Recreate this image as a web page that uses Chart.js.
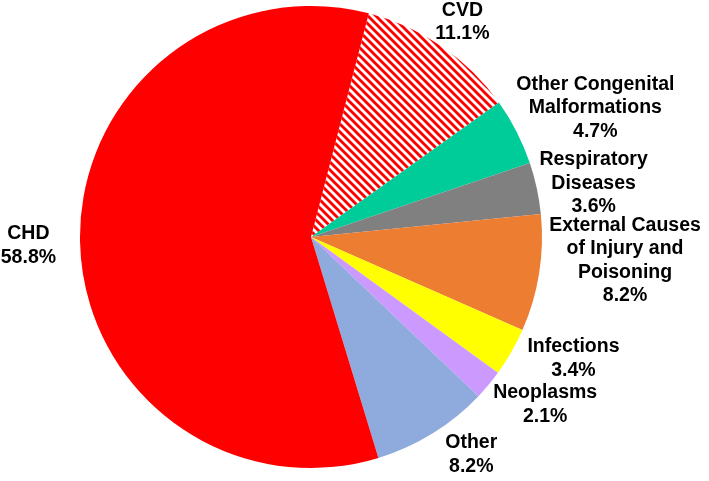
<!DOCTYPE html>
<html>
<head>
<meta charset="utf-8">
<script src="https://cdn.jsdelivr.net/npm/chart.js@4"></script>
<style>
  html, body { margin: 0; padding: 0; background: #fff; }
  #wrap { width: 709px; height: 481px; }
</style>
</head>
<body>
<div id="wrap"><canvas id="pie" width="709" height="481"></canvas></div>
<script>
// data, clockwise starting just right of 12 o'clock
const causes = ['CVD', 'Other Congenital Malformations', 'Respiratory Diseases',
  'External Causes of Injury and Poisoning', 'Infections', 'Neoplasms', 'Other', 'CHD'];
const shares = [11.1, 4.7, 3.6, 8.2, 3.4, 2.1, 8.2, 58.8];
// how each label is broken into lines
const labelLines = [
  ['CVD'],
  ['Other Congenital', 'Malformations'],
  ['Respiratory', 'Diseases'],
  ['External Causes', 'of Injury and', 'Poisoning'],
  ['Infections'],
  ['Neoplasms'],
  ['Other'],
  ['CHD']
];

// red / white diagonal hatch for CVD
const makeHatch = () => {
  const t = document.createElement('canvas');
  t.width = 8; t.height = 8;
  const c = t.getContext('2d');
  c.fillStyle = '#fff';
  c.fillRect(0, 0, 8, 8);
  c.strokeStyle = '#ff0000';
  c.lineWidth = 2.9;
  [-8, 0, 8].forEach(o => {
    c.beginPath();
    c.moveTo(o - 1, -1);
    c.lineTo(o + 9, 9);
    c.stroke();
  });
  return c.createPattern(t, 'repeat');
};

const ctx = document.getElementById('pie').getContext('2d');
const colors = [makeHatch(), '#00cc99', '#808080', '#ed7d31', '#ffff00', '#cc99ff', '#8faadc', '#ff0000'];

// small per-label nudges on top of the outside-end placement
const nudges = [[2, 0], [3, -5], [-2, 4], [5, -21], [17, -8], [12, 1], [22, -4], [-18, 3]];

const outsideLabels = {
  id: 'outsideLabels',
  afterDraw(chart) {
    const g = chart.ctx;
    const arcs = chart.getDatasetMeta(0).data;
    const fs = 19.5, lh = 23.5;
    g.save();
    g.font = `bold ${fs}px "Liberation Sans", Arial, sans-serif`;
    g.fillStyle = '#000';
    g.textAlign = 'center';
    g.textBaseline = 'middle';
    arcs.forEach((arc, i) => {
      const lines = labelLines[i].concat([shares[i].toFixed(1) + '%']);
      const mid = (arc.startAngle + arc.endAngle) / 2;
      const r = arc.outerRadius + 6;
      const ax = arc.x + Math.cos(mid) * r;
      const ay = arc.y + Math.sin(mid) * r;
      const hw = Math.max(...lines.map(l => g.measureText(l).width)) / 2;
      const hh = lines.length * lh / 2;
      const cx = ax + Math.cos(mid) * hw + nudges[i][0];
      const cy = ay + Math.sin(mid) * hh + nudges[i][1];
      lines.forEach((l, k) => {
        g.fillText(l, cx, cy + (k - (lines.length - 1) / 2) * lh);
      });
    });
    g.restore();
  }
};

new Chart(ctx, {
  type: 'pie',
  data: {
    labels: causes,
    datasets: [{
      data: shares,
      backgroundColor: colors,
      borderWidth: 0
    }]
  },
  options: {
    responsive: false,
    animation: false,
    rotation: 14.5,
    layout: { padding: { left: 80, right: 167, top: 6, bottom: 13 } },
    plugins: {
      legend: { display: false },
      tooltip: { enabled: false }
    }
  },
  plugins: [outsideLabels]
});
</script>
</body>
</html>
